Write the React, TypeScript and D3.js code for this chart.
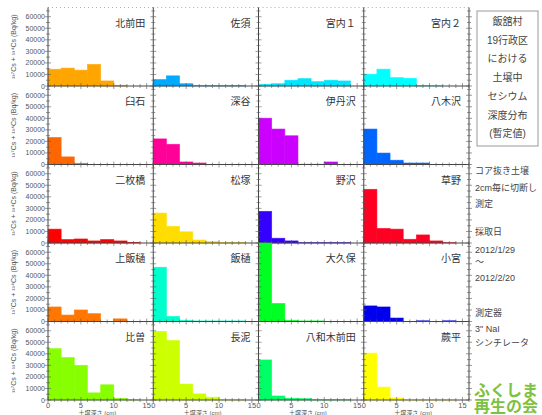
import React, { useEffect, useRef } from "react";
import * as d3 from "d3";

// sampling sites, in the order of the grid (left to right, top to bottom)
const stations = [
  "北前田", "佐須", "宮内１", "宮内２",
  "臼石", "深谷", "伊丹沢", "八木沢",
  "二枚橋", "松塚", "野沢", "草野",
  "上飯樋", "飯樋", "大久保", "小宮",
  "比曽", "長泥", "八和木前田", "蕨平",
];

const colors = [
  "#ffa500", "#00aaff", "#00e6ff", "#00ffff",
  "#ff6600", "#ff0099", "#cc00ff", "#0066ff",
  "#ff0000", "#ffdd00", "#3300ff", "#ff0022",
  "#ff7700", "#00ffcc", "#00ff22", "#0000ee",
  "#88ff00", "#ccff00", "#00ff66", "#ffff00",
];

// depth bins (cm)
const depthEdges = [0, 2, 4, 6, 8, 10, 12, 14, 16];

// 137Cs + 134Cs (Bq/kg) per 2cm slice
const cesium = [
  [14500, 15500, 13700, 18700, 4400, 600, 0, 0],
  [5600, 8800, 2000, 300, 300, 300, 300, 0],
  [1500, 2000, 5000, 6400, 3800, 5000, 4400, 0],
  [10200, 14600, 7300, 6700, 500, 300, 0, 0],
  [23400, 6600, 1000, 0, 0, 0, 0, 0],
  [22200, 17500, 2200, 1300, 0, 0, 0, 0],
  [40100, 30700, 24900, 200, 200, 2200, 0, 0],
  [30700, 9900, 3700, 1300, 1300, 0, 0, 0],
  [12000, 3000, 3500, 1800, 3000, 1800, 500, 0],
  [25900, 14400, 9700, 2600, 1200, 300, 300, 0],
  [27400, 4100, 1800, 300, 300, 300, 300, 0],
  [46500, 12600, 12000, 3200, 7000, 1800, 300, 0],
  [12600, 5600, 10000, 6800, 0, 2300, 0, 0],
  [47000, 4400, 1000, 500, 500, 500, 500, 0],
  [68000, 15600, 900, 500, 500, 0, 0, 0],
  [13500, 12600, 3000, 0, 600, 0, 600, 0],
  [44500, 36800, 30000, 6200, 13200, 1500, 300, 0],
  [59400, 51500, 13800, 5300, 2400, 300, 300, 0],
  [34700, 3500, 1500, 1200, 300, 300, 300, 0],
  [40600, 11200, 1800, 300, 300, 300, 300, 0],
];

const yTicks = [0, 10000, 20000, 30000, 40000, 50000, 60000];
const xTicks = [0, 5, 10, 15];

const boxLines = ["飯舘村", "19行政区", "における", "土壌中", "セシウム", "深度分布", "(暫定値)"];
const noteLines = [
  ["コア抜き土壌", 174], ["2cm毎に切断し", 191], ["測定", 207],
  ["採取日", 235], ["2012/1/29", 253], ["～", 265], ["2012/2/20", 281],
  ["測定器", 316], ["3\" NaI", 332], ["シンチレータ", 346],
];

const W = 542, H = 415;
const left = 48, right = 469, top = 7.5, rowH = 78.5;
const nCols = 4, nRows = 5;
const font = "'Liberation Sans', 'Noto Sans CJK JP', sans-serif";

function App() {
  const ref = useRef(null);

  useEffect(() => {
    const svg = d3.select(ref.current);
    svg.selectAll("*").remove();

    const colW = (right - left) / nCols;
    const yMax = 68000;

    for (let r = 0; r < nRows; r++) {
      const y0 = top + r * rowH;
      const y = d3.scaleLinear().domain([0, yMax]).range([y0 + rowH, y0]);

      // y axis labels for the row
      svg.append("text")
        .attr("transform", `translate(16, ${y0 + rowH / 2}) rotate(-90)`)
        .attr("text-anchor", "middle")
        .attr("font-family", font).attr("font-size", 7).attr("fill", "#555")
        .text("¹³⁷Cs + ¹³⁴Cs (Bq/kg)");
      svg.selectAll(null).data(yTicks).enter().append("text")
        .attr("x", left - 3).attr("y", (d) => y(d) + 2.5)
        .attr("text-anchor", "end")
        .attr("font-family", font).attr("font-size", 7).attr("fill", "#555")
        .text((d) => d);

      for (let c = 0; c < nCols; c++) {
        const i = r * nCols + c;
        const x0 = left + c * colW;
        const x = d3.scaleLinear().domain([0, 16]).range([x0, x0 + colW]);
        const g = svg.append("g");

        // bars
        g.selectAll("rect").data(cesium[i].map((v, k) => ({ v, k })).filter((d) => d.v > 0))
          .enter().append("rect")
          .attr("x", (d) => x(depthEdges[d.k]))
          .attr("width", (d) => x(depthEdges[d.k + 1]) - x(depthEdges[d.k]))
          .attr("y", (d) => y(d.v))
          .attr("height", (d) => y(0) - y(d.v))
          .attr("fill", colors[i])
          .attr("stroke", colors[i]).attr("stroke-width", 0.8).attr("stroke-opacity", 0.7);

        // station name
        g.append("text")
          .attr("x", x0 + colW - 8).attr("y", y0 + 19)
          .attr("text-anchor", "end")
          .attr("font-family", font).attr("font-size", 10).attr("fill", "#333")
          .text(stations[i]);

        // bottom axis
        g.append("line")
          .attr("x1", x0).attr("x2", x0 + colW)
          .attr("y1", y(0)).attr("y2", y(0))
          .attr("stroke", "#444").attr("stroke-width", 1);
        g.selectAll(".xt").data(d3.range(0, 17)).enter().append("line")
          .attr("x1", (d) => x(d)).attr("x2", (d) => x(d))
          .attr("y1", (d) => y(0) - (d % 5 === 0 ? 3 : 2))
          .attr("y2", (d) => y(0) + (d % 5 === 0 ? 3 : 2))
          .attr("stroke", "#555").attr("stroke-width", 0.6);

        if (r === nRows - 1) {
          g.selectAll(".xl").data(xTicks).enter().append("text")
            .attr("x", (d) => x(d)).attr("y", y(0) + 8)
            .attr("text-anchor", "middle")
            .attr("font-family", font).attr("font-size", 7.5).attr("fill", "#555")
            .text((d) => d);
          g.append("text")
            .attr("x", x(7.5)).attr("y", 414.5)
            .attr("text-anchor", "middle")
            .attr("font-family", font).attr("font-size", 6).attr("fill", "#555")
            .text("土壌深さ (cm)");
        }
        if (r === 0) {
          g.append("line")
            .attr("x1", x0).attr("x2", x0 + colW)
            .attr("y1", y0).attr("y2", y0)
            .attr("stroke", "#999").attr("stroke-width", 0.8)
            .attr("stroke-dasharray", "1,3");
        }
      }

      // vertical axes between panels
      for (let c = 0; c <= nCols; c++) {
        const xv = left + c * colW;
        svg.append("line")
          .attr("x1", xv).attr("x2", xv)
          .attr("y1", y0).attr("y2", y0 + rowH)
          .attr("stroke", "#444").attr("stroke-width", 1);
        svg.selectAll(null).data(d3.range(0, yMax, 5000)).enter().append("line")
          .attr("x1", (d) => xv - (d % 10000 === 0 ? 3 : 2))
          .attr("x2", (d) => xv + (d % 10000 === 0 ? 3 : 2))
          .attr("y1", (d) => y(d)).attr("y2", (d) => y(d))
          .attr("stroke", "#555").attr("stroke-width", 0.6);
      }
    }

    // title box on the right
    svg.append("rect")
      .attr("x", 477).attr("y", 11).attr("width", 61).attr("height", 135)
      .attr("fill", "none").attr("stroke", "#999").attr("stroke-width", 1);
    svg.selectAll(null).data(boxLines).enter().append("text")
      .attr("x", 507.5).attr("y", (d, k) => 25 + k * 18.7)
      .attr("text-anchor", "middle")
      .attr("font-family", font).attr("font-size", 10).attr("fill", "#444")
      .text((d) => d);

    svg.selectAll(null).data(noteLines).enter().append("text")
      .attr("x", 475).attr("y", (d) => d[1])
      .attr("font-family", font).attr("font-size", 9).attr("fill", "#444")
      .text((d) => d[0]);

    svg.append("text")
      .attr("x", 474).attr("y", 396)
      .attr("font-family", font).attr("font-size", 16).attr("font-weight", "bold")
      .attr("fill", "#7cc242").text("ふくしま");
    svg.append("text")
      .attr("x", 474).attr("y", 412)
      .attr("font-family", font).attr("font-size", 16).attr("font-weight", "bold")
      .attr("fill", "#7cc242").text("再生の会");
  }, []);

  return (
    <svg ref={ref} width={W} height={H}
      style={{ position: "absolute", left: 0, top: 0, background: "#fff" }} />
  );
}

export default App;
